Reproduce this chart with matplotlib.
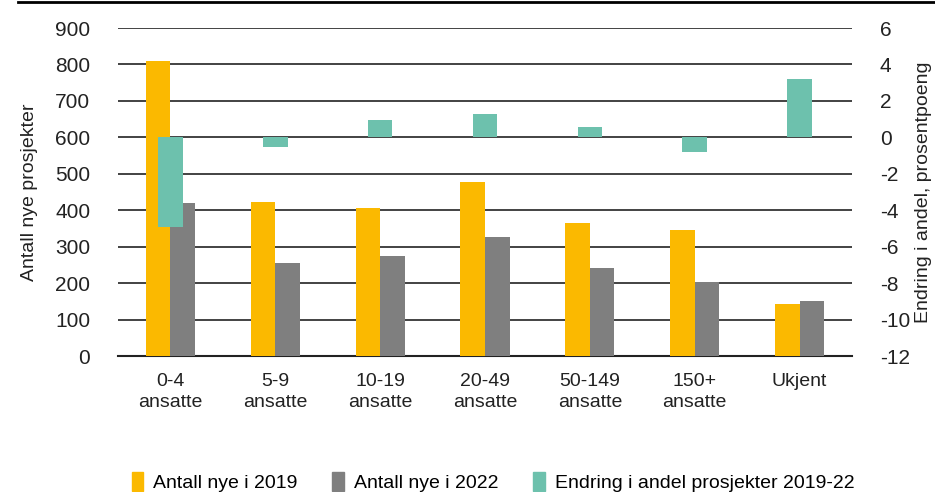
import matplotlib
matplotlib.use("Agg")
import matplotlib.pyplot as plt
import numpy as np
from matplotlib.patches import Patch
from matplotlib.lines import Line2D

categories = ["0-4\nansatte", "5-9\nansatte", "10-19\nansatte", "20-49\nansatte",
              "50-149\nansatte", "150+\nansatte", "Ukjent"]
nye_2019 = [810, 422, 407, 477, 366, 346, 143]
nye_2022 = [419, 255, 275, 326, 242, 203, 150]
endring = [-4.9, -0.55, 0.96, 1.3, 0.54, -0.78, 3.2]
left_ticks = list(range(0, 901, 100))
right_ticks = list(range(-12, 7, 2))

C_ORANGE = "#FBB900"
C_GRAY = "#7F7F7F"
C_TEAL = "#6DC1AD"

plt.rcParams['font.family'] = ['Liberation Sans', 'DejaVu Sans']
plt.rcParams['axes.unicode_minus'] = False

fig = plt.figure(figsize=(9.35, 4.92), dpi=100)
ax = fig.add_axes([118/935, 1-356/492, (852-118)/935, (356-28)/492])
ax2 = ax.twinx()

x = np.arange(len(categories))
w = 0.235
ax.bar(x - w/2, nye_2019, w, color=C_ORANGE, zorder=3)
ax.bar(x + w/2, nye_2022, w, color=C_GRAY, zorder=3)
ax2.bar(x, endring, w, color=C_TEAL, zorder=3)

ax.set_xlim(-0.5, len(categories) - 0.5)
ax.set_ylim(0, 900)
ax2.set_ylim(-12, 6)
ax.set_yticks(left_ticks)
ax2.set_yticks(right_ticks)
ax.yaxis.grid(True, color="#222222", linewidth=1.2, zorder=0)
ax.set_axisbelow(True)

for a in (ax, ax2):
    for s in a.spines.values():
        s.set_visible(False)
    a.tick_params(length=0, labelsize=15, colors="#222222")
ax.spines['bottom'].set_visible(True)
ax.spines['bottom'].set_color("#222222")
ax.spines['bottom'].set_linewidth(1.5)

ax.tick_params(axis='y', pad=20)
ax2.tick_params(axis='y', pad=20)
ax.set_xticks(x)
ax.set_xticklabels(categories, fontsize=14, linespacing=1.3)
ax.tick_params(axis='x', pad=12)

ax.set_ylabel("Antall nye prosjekter", fontsize=14, color="#222222",
              ha="center", va="center")
ax.yaxis.set_label_coords((30 - 118) / 734, 0.5)
ax2.set_ylabel("Endring i andel, prosentpoeng", fontsize=14, color="#222222",
               rotation=90, ha="center", va="center")
ax2.yaxis.set_label_coords((924 - 118) / 734, 0.5)

handles = [Patch(color=C_ORANGE), Patch(color=C_GRAY), Patch(color=C_TEAL)]
labels = ["Antall nye i 2019", "Antall nye i 2022", "Endring i andel prosjekter 2019-22"]
fig.legend(handles, labels, loc="center", bbox_to_anchor=(493/935, 1-482/492), ncol=3,
           frameon=False, fontsize=14, handlelength=0.6, handleheight=1.1,
           handletextpad=0.5, columnspacing=1.8)

fig.add_artist(Line2D([18/935, 1], [1-1.5/492, 1-1.5/492], color="black", linewidth=2,
                      transform=fig.transFigure))

fig.savefig("out.png", dpi=100)
